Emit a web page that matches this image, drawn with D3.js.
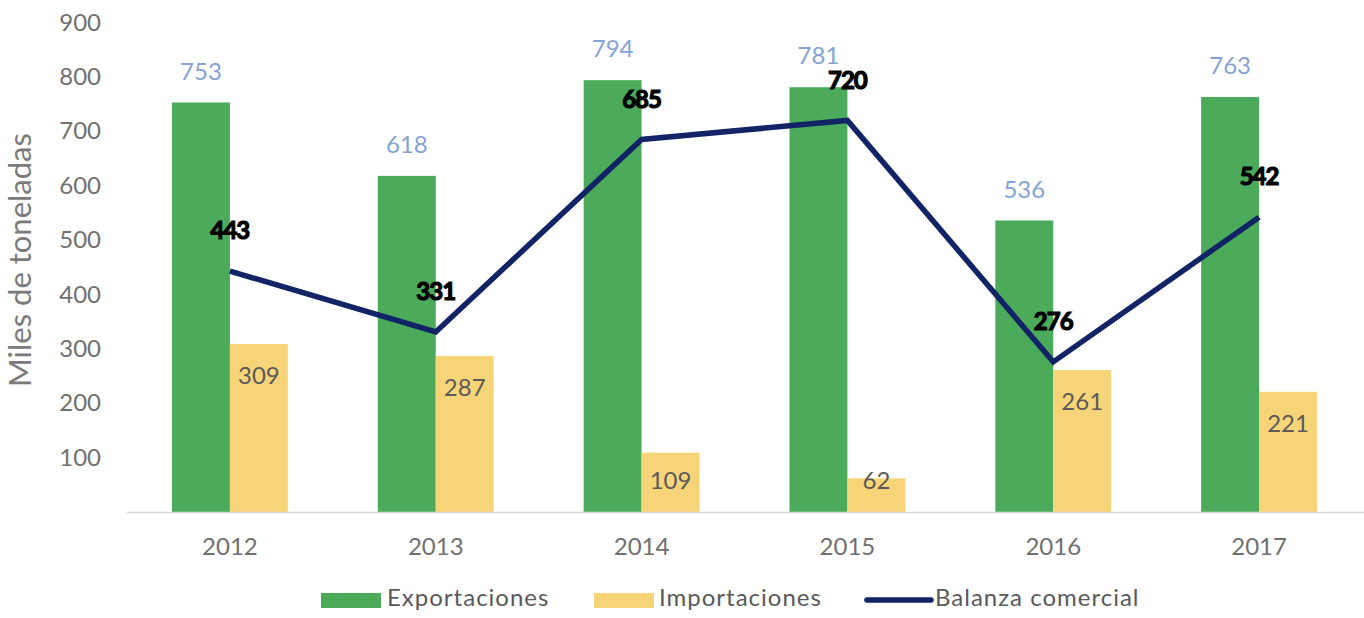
<!DOCTYPE html>
<html>
<head>
<meta charset="utf-8">
<script src="https://cdn.jsdelivr.net/npm/d3@7"></script>
<style>
  body { margin: 0; background: #fff; }
  text { font-family: Lato, "Open Sans", sans-serif; }
</style>
</head>
<body>
<svg width="1364" height="618"></svg>
<script>
// data
let years = ["2012", "2013", "2014", "2015", "2016", "2017"];
let exportaciones = [753, 618, 794, 781, 536, 763];
let importaciones = [309, 287, 109, 62, 261, 221];
let balanza = [443, 331, 685, 720, 276, 542];
let yTicks = [100, 200, 300, 400, 500, 600, 700, 800, 900];
let seriesNames = ["Exportaciones", "Importaciones", "Balanza comercial"];

let svg = d3.select("svg");
let width = +svg.attr("width");

let green = "#4cab5a", yellow = "#f7d477", navy = "#122466";

let x = d3.scaleBand()
    .domain(years)
    .range([127, 1362])
    .paddingInner(0.437)
    .paddingOuter(0.2185);

let x1 = d3.scaleBand()
    .domain(["exp", "imp"])
    .range([0, x.bandwidth()]);

let y = d3.scaleLinear()
    .domain([0, 900])
    .range([512, 22.5]);

// y axis labels (no line)
let yAxis = svg.append("g")
    .attr("transform", "translate(101,0)")
    .call(d3.axisLeft(y).tickValues(yTicks).tickSize(0).tickPadding(0));
yAxis.select(".domain").remove();
yAxis.selectAll("text")
    .attr("font-size", 24)
    .attr("fill", "#707070")
    .attr("font-family", "Lato, sans-serif");

svg.append("text")
    .attr("transform", "translate(23,260) rotate(-90)")
    .attr("text-anchor", "middle")
    .attr("dominant-baseline", "middle")
    .attr("font-size", 31)
    .attr("fill", "#7a7a7a")
    .text("Miles de toneladas");

let rows = years.map(function(d, i) {
    return { year: d, exp: exportaciones[i], imp: importaciones[i], bal: balanza[i] };
});

// bars
let groups = svg.append("g").selectAll("g")
    .data(rows)
    .enter().append("g")
    .attr("transform", function(d) { return "translate(" + x(d.year) + ",0)"; });

groups.append("rect")
    .attr("x", x1("exp"))
    .attr("width", x1.bandwidth())
    .attr("y", function(d) { return y(d.exp); })
    .attr("height", function(d) { return y(0) - y(d.exp); })
    .attr("fill", green);

groups.append("rect")
    .attr("x", x1("imp"))
    .attr("width", x1.bandwidth())
    .attr("y", function(d) { return y(d.imp); })
    .attr("height", function(d) { return y(0) - y(d.imp); })
    .attr("fill", yellow);

// x axis
let xAxis = svg.append("g")
    .attr("transform", "translate(0," + y(0) + ")")
    .call(d3.axisBottom(x).tickSize(0).tickPadding(26));
xAxis.select(".domain").remove();
xAxis.selectAll("text")
    .attr("font-size", 24)
    .attr("fill", "#707070")
    .attr("font-family", "Lato, sans-serif");
svg.append("line")
    .attr("x1", 127).attr("x2", width)
    .attr("y1", y(0) + 0.5).attr("y2", y(0) + 0.5)
    .attr("stroke", "#d9d9d9")
    .attr("stroke-width", 1.5);

// bar labels
groups.append("text")
    .attr("x", x1("exp") + x1.bandwidth() / 2)
    .attr("y", function(d) { return y(d.exp) - 29; })
    .attr("text-anchor", "middle")
    .attr("dominant-baseline", "middle")
    .attr("font-size", 24)
    .attr("fill", "#84a3d4")
    .text(function(d) { return d.exp; });

groups.append("text")
    .attr("x", x1("imp") + x1.bandwidth() / 2)
    .attr("y", function(d) { return Math.min(y(d.imp) + 34, y(0) - 29); })
    .attr("text-anchor", "middle")
    .attr("dominant-baseline", "middle")
    .attr("font-size", 24)
    .attr("fill", "#5a5a5a")
    .text(function(d) { return d.imp; });

// balance line
let cx = function(d) { return x(d.year) + x.bandwidth() / 2; };
let line = d3.line()
    .x(cx)
    .y(function(d) { return y(d.bal); });

svg.append("path")
    .datum(rows)
    .attr("d", line)
    .attr("fill", "none")
    .attr("stroke", navy)
    .attr("stroke-width", 5.5)
    .attr("stroke-linejoin", "miter");

svg.append("g").selectAll("text")
    .data(rows)
    .enter().append("text")
    .attr("x", cx)
    .attr("y", function(d) { return y(d.bal) - 38; })
    .attr("text-anchor", "middle")
    .attr("dominant-baseline", "middle")
    .attr("font-size", 24)
    .attr("font-weight", "bold")
    .attr("fill", "#000")
    .attr("stroke", "#000")
    .attr("stroke-width", 1.2)
    .attr("letter-spacing", -1)
    .text(function(d) { return d.bal; });

// legend
let legendItems = [
    { name: seriesNames[0], color: green, type: "rect", x: 321, tx: 387 },
    { name: seriesNames[1], color: yellow, type: "rect", x: 594, tx: 659 },
    { name: seriesNames[2], color: navy, type: "line", x: 867, tx: 935 }
];
let legend = svg.append("g").selectAll("g")
    .data(legendItems)
    .enter().append("g");

legend.filter(function(d) { return d.type === "rect"; })
    .append("rect")
    .attr("x", function(d) { return d.x; })
    .attr("y", 593)
    .attr("width", 60)
    .attr("height", 15)
    .attr("fill", function(d) { return d.color; });

legend.filter(function(d) { return d.type === "line"; })
    .append("line")
    .attr("x1", function(d) { return d.x; })
    .attr("x2", function(d) { return d.x + 64; })
    .attr("y1", 600).attr("y2", 600)
    .attr("stroke", function(d) { return d.color; })
    .attr("stroke-width", 5.5)
    .attr("stroke-linecap", "round");

legend.append("text")
    .attr("x", function(d) { return d.tx; })
    .attr("y", 600)
    .attr("dominant-baseline", "middle")
    .attr("font-size", 24)
    .attr("letter-spacing", 1)
    .attr("fill", "#5a5a5a")
    .text(function(d) { return d.name; });
</script>
</body>
</html>
